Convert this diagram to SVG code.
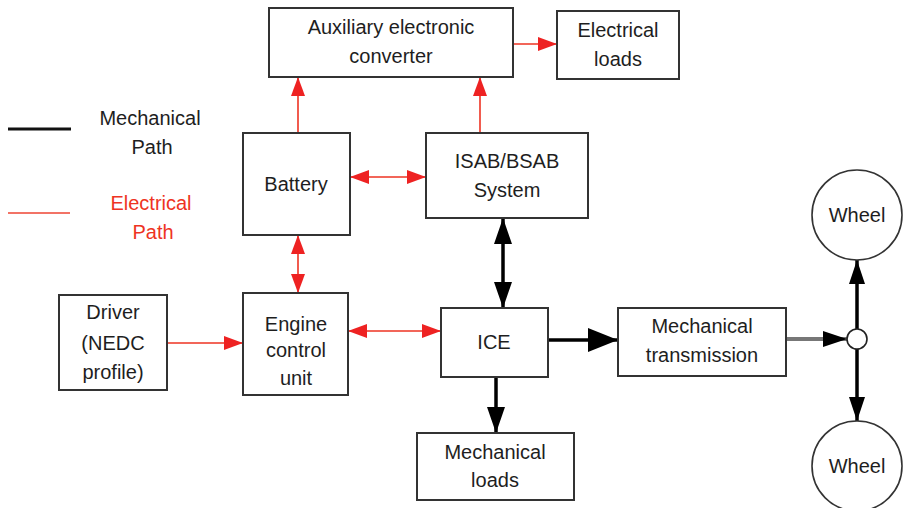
<svg xmlns="http://www.w3.org/2000/svg" width="905" height="508" viewBox="0 0 905 508">
<defs>
<style>
.box{fill:#fff;stroke:#333;stroke-width:2}
.t{font-family:"Liberation Sans",Arial,sans-serif;font-size:20px;fill:#1e1e1e;text-anchor:middle}
.tr{fill:#ee3322}
.e{stroke:#ee3322;stroke-width:1.6;fill:none}
.m{stroke:#000;stroke-width:3.5;fill:none}
</style>
<marker id="ra" markerUnits="userSpaceOnUse" markerWidth="19" markerHeight="14" refX="19" refY="7" orient="auto-start-reverse"><path d="M0,0 L19,7 L0,14 z" fill="#ee2222"/></marker>
<marker id="ba" markerUnits="userSpaceOnUse" markerWidth="26" markerHeight="18" refX="26" refY="9" orient="auto-start-reverse"><path d="M0,0 L26,9 L0,18 z" fill="#000"/></marker>
<marker id="bb" markerUnits="userSpaceOnUse" markerWidth="30" markerHeight="24" refX="30" refY="12" orient="auto-start-reverse"><path d="M0,0 L30,12 L0,24 z" fill="#000"/></marker>
<marker id="bc" markerUnits="userSpaceOnUse" markerWidth="24" markerHeight="16" refX="24" refY="8" orient="auto-start-reverse"><path d="M0,0 L24,8 L0,16 z" fill="#000"/></marker>
</defs>
<rect width="905" height="508" fill="#fff"/>
<g id="legend">
<line x1="8" y1="129" x2="71" y2="129" stroke="#111" stroke-width="3"/>
<text class="t" x="150" y="125">Mechanical</text>
<text class="t" x="152" y="154">Path</text>
<line x1="8" y1="213" x2="70" y2="213" stroke="#ee4433" stroke-width="1.6"/>
<text class="t tr" x="151" y="210">Electrical</text>
<text class="t tr" x="153" y="239">Path</text>
</g>
<g id="connectors">
<line class="e" x1="513" y1="44" x2="557" y2="44" marker-end="url(#ra)"/>
<line class="e" x1="298" y1="133" x2="298" y2="77" marker-end="url(#ra)"/>
<line class="e" x1="480" y1="133" x2="480" y2="77" marker-end="url(#ra)"/>
<line class="e" x1="350" y1="177" x2="426" y2="177" marker-start="url(#ra)" marker-end="url(#ra)"/>
<line class="e" x1="298" y1="235" x2="298" y2="293" marker-start="url(#ra)" marker-end="url(#ra)"/>
<line class="e" x1="167" y1="343" x2="243" y2="343" marker-end="url(#ra)"/>
<line class="e" x1="348" y1="331" x2="441" y2="331" marker-start="url(#ra)" marker-end="url(#ra)"/>
<line class="m" x1="503" y1="218" x2="503" y2="308" marker-start="url(#ba)" marker-end="url(#ba)"/>
<line class="m" x1="548" y1="340" x2="618" y2="340" marker-end="url(#bb)"/>
<line class="m" x1="496" y1="377" x2="496" y2="433" marker-end="url(#ba)"/>
<line x1="786" y1="339" x2="847" y2="339" stroke="#777" stroke-width="4" marker-end="url(#bc)"/>
<line class="m" x1="857" y1="329" x2="857" y2="260" marker-end="url(#bc)"/>
<line class="m" x1="857" y1="349" x2="857" y2="421" marker-end="url(#bc)"/>
</g>
<g id="aux"><rect class="box" x="269" y="8" width="244" height="69"/><text class="t" x="391" y="34">Auxiliary electronic</text><text class="t" x="391" y="63">converter</text></g>
<g id="eloads"><rect class="box" x="557" y="11" width="122" height="68"/><text class="t" x="618" y="37">Electrical</text><text class="t" x="618" y="66">loads</text></g>
<g id="battery"><rect class="box" x="243" y="133" width="107" height="102"/><text class="t" x="296" y="191">Battery</text></g>
<g id="isab"><rect class="box" x="426" y="133" width="162" height="85"/><text class="t" x="507" y="168">ISAB/BSAB</text><text class="t" x="507" y="197">System</text></g>
<g id="driver"><rect class="box" x="59" y="295" width="108" height="95"/><text class="t" x="113" y="319">Driver</text><text class="t" x="113" y="350">(NEDC</text><text class="t" x="113" y="379">profile)</text></g>
<g id="ecu"><rect class="box" x="243" y="293" width="105" height="102"/><text class="t" x="296" y="331">Engine</text><text class="t" x="296" y="357">control</text><text class="t" x="296" y="385">unit</text></g>
<g id="ice"><rect class="box" x="441" y="308" width="107" height="69"/><text class="t" x="494" y="349">ICE</text></g>
<g id="trans"><rect class="box" x="618" y="308" width="168" height="68"/><text class="t" x="702" y="333">Mechanical</text><text class="t" x="702" y="362">transmission</text></g>
<g id="mloads"><rect class="box" x="417" y="433" width="157" height="67"/><text class="t" x="495" y="459">Mechanical</text><text class="t" x="495" y="487">loads</text></g>
<g id="junction"><circle cx="857" cy="339" r="10" fill="#fff" stroke="#222" stroke-width="1.6"/></g>
<g id="wheel1"><circle cx="857" cy="215" r="45" fill="#fff" stroke="#333" stroke-width="1.6"/><text class="t" x="857" y="222">Wheel</text></g>
<g id="wheel2"><circle cx="857" cy="466" r="45" fill="#fff" stroke="#333" stroke-width="1.6"/><text class="t" x="857" y="473">Wheel</text></g>
</svg>
